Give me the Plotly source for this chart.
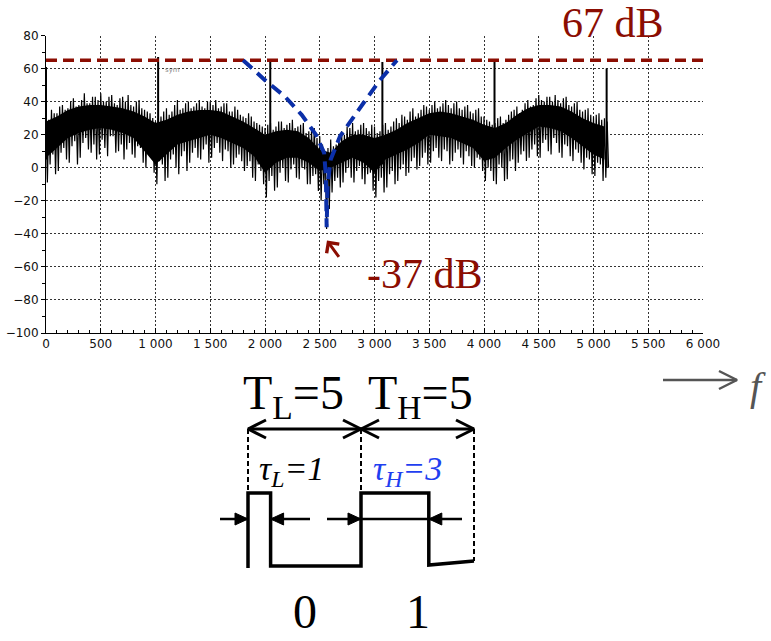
import numpy as np
import plotly.graph_objects as go

# ---------------- data ----------------
# noisy spectrum: each 50 Hz block holds two spike tops and two spike bottoms
freq_hz = np.arange(0, 5101, 50)
peak_db = [31, 35, 33, 38, 36, 42, 38, 45, 39, 43,
           45, 40, 44, 38, 43, 44, 37, 41, 35, 33,
           28, 31, 36, 34, 41, 36, 40, 37, 41, 36,
           40, 41, 37, 39, 34, 35, 31, 33, 28, 26,
           24, 27, 25, 28, 26, 29, 25, 27, 22, 24,
           19, 10, 17, 14, 22, 25, 27, 23, 27, 22,
           25, 22, 27, 25, 30, 32, 29, 36, 33, 38,
           35, 40, 37, 41, 36, 40, 35, 38, 33, 36,
           31, 28, 27, 31, 29, 34, 37, 35, 41, 38,
           44, 40, 43, 44, 39, 43, 37, 40, 34, 36,
           31, 33, 30]
trough_db = [-9, 8, -2, 12, 3, 16, 6, 18, 9, 5,
             17, 7, 19, 10, 5, 15, 6, 12, 0, 7,
             -10, 2, -6, 8, -4, 10, 3, 12, 5, 14,
             6, 15, 4, 10, 2, 8, -2, 4, -8, -2,
             -18, -5, -12, 0, -9, 2, -7, -1, -10, -4,
             -20, -37, -15, -6, -9, 0, -9, 1, -10, -3,
             -18, -6, -12, -2, -8, 2, -3, 6, 1, 9,
             3, 12, 4, 10, 4, 11, 2, 7, 0, 5,
             -8, -2, -10, 0, -7, 5, 3, 10, 6, 14,
             6, 17, 8, 15, 6, 13, 4, 9, -1, 5,
             -5, 2, -6]
peak2_db = [29, 33, 37, 35, 40, 37, 41, 39, 43, 41,
            40, 43, 39, 42, 40, 38, 40, 36, 34, 30,
            30, 34, 32, 38, 35, 39, 36, 39, 37, 40,
            38, 36, 39, 34, 37, 32, 30, 31, 27, 25,
            26, 23, 28, 24, 27, 24, 26, 21, 23, 18,
            14, 12, 13, 19, 20, 24, 22, 26, 24, 26,
            21, 26, 23, 28, 27, 31, 34, 31, 35, 37,
            38, 36, 39, 38, 39, 36, 37, 34, 35, 31,
            29, 26, 30, 27, 32, 35, 33, 39, 37, 42,
            41, 43, 40, 41, 42, 38, 39, 35, 35, 32,
            32, 29, 28]
trough2_db = [2, -4, 9, 5, 13, 2, 15, 11, 14, 8,
              12, 19, 9, 14, 11, 8, 13, 3, 9, -3,
              4, -8, 5, 0, 7, -2, 9, 6, 11, 3,
              12, 9, 11, 0, 6, 4, 1, -6, 2, -10,
              -8, -14, -3, -8, -1, -6, 0, -10, -5, -14,
              -10, -25, -8, -12, -3, -6, -2, -7, -4, -14,
              -8, -15, -4, -10, -1, -5, 4, -1, 6, 2,
              10, 6, 11, 2, 9, 6, 10, 1, 6, -2,
              0, -8, 2, -8, 4, -2, 8, 4, 11, 7,
              15, 10, 18, 9, 14, 7, 11, 3, 6, -4,
              3, -8, 0]
# dense body of the noise band, every 100 Hz
body_freq_hz = np.arange(0, 5101, 100)
body_hi_db = [28, 31, 35, 37, 38, 38, 37, 36, 34, 31,
              27, 29, 32, 34, 35, 35, 34, 31, 28, 24,
              20, 22, 23, 22, 18, 11, 9, 16, 20, 20,
              18, 20, 23, 27, 30, 33, 34, 33, 31, 29,
              26, 24, 27, 32, 36, 38, 38, 37, 34, 30,
              27, 25]
body_lo_db = [6, 12, 18, 21, 23, 24, 23, 21, 18, 10,
              2, 8, 14, 16, 18, 20, 18, 15, 12, 7,
              -3, 3, 6, 6, 3, -2, 0, 3, 6, 3,
              -3, 5, 8, 11, 15, 20, 19, 18, 15, 12,
              4, 6, 12, 17, 21, 25, 24, 22, 18, 13,
              8, 5]
# discrete tones
tone_hz = [0, 1024, 2048, 3072, 4096, 5120]
tone_top_db = [61, 67, 64, 64, 64, 60]
tone_base_db = [5, 22, 0, 2, 15, 0]

# reference level and notch
ref_level_db = 65
ref_label = "67 dB"
notch_hz = 2566
notch_db = -44
notch_label = "-37 dB"
marker_tag = "sym"

# blue V envelope
v_hz = [1800, 2000, 2183, 2335, 2465, 2540, 2556, 2563,
        2572, 2600, 2685, 2776, 2898, 3050, 3205]
v_db = [65, 53, 43, 32, 20, 9, -5, -36,
        -10, 5, 19, 28, 39, 53, 65]

# axes
x_ticks = list(range(0, 6001, 500))
x_ticktext = ["0", "500", "1 000", "1 500", "2 000", "2 500", "3 000",
              "3 500", "4 000", "4 500", "5 000", "5 500", "6 000"]
y_ticks = list(range(-100, 81, 20))
y_ticktext = ["\u2212100", "\u221280", "\u221260", "\u221240", "\u221220",
              "0", "20", "40", "60", "80"]

# timing diagram values
T_L, T_H = 5, 5
tau_L, tau_H = 1, 3
bit_labels = ["0", "1"]

# ---------------- layout geometry ----------------
W, H = 771, 641
PL, PR, PT, PB = 46, 703, 35.5, 333
DIAG_X0 = 248.0      # pixel x of t = 0 in the timing diagram
PX_PER_T = 22.6      # pixels per time unit


def tx(px):
    return (px - DIAG_X0) / PX_PER_T


DARKRED = "#8b0d02"
BLUE = "#0b2fa8"

fig = go.Figure()

# body fill
fig.add_trace(go.Scatter(
    x=list(body_freq_hz) + list(body_freq_hz[::-1]),
    y=body_hi_db + body_lo_db[::-1],
    fill="toself", fillcolor="black", mode="lines",
    line=dict(width=0, color="black"), hoverinfo="skip"))

# noise zigzag
zx, zy = [], []
for f, p, t, p2, t2 in zip(freq_hz, peak_db, trough_db, peak2_db, trough2_db):
    zx += [f, f + 12.5, f + 25, f + 37.5]
    zy += [p, t, p2, t2]
fig.add_trace(go.Scatter(x=zx, y=zy, mode="lines",
                         line=dict(color="black", width=1.2), hoverinfo="skip"))

# tones
tx_, ty_ = [], []
for f, top, base in zip(tone_hz, tone_top_db, tone_base_db):
    tx_ += [f, f, None]
    ty_ += [base, top, None]
fig.add_trace(go.Scatter(x=tx_, y=ty_, mode="lines",
                         line=dict(color="black", width=2), hoverinfo="skip"))

# reference level
fig.add_trace(go.Scatter(x=[0, 6000], y=[ref_level_db, ref_level_db], mode="lines",
                         line=dict(color=DARKRED, width=3.5, dash="11px,6px"),
                         hoverinfo="skip"))
# blue V
fig.add_trace(go.Scatter(x=v_hz, y=v_db, mode="lines",
                         line=dict(color=BLUE, width=4, dash="12px,7px"),
                         hoverinfo="skip"))

# ---------------- timing diagram (x2 = time units, y2 = pixel rows) ----------------
Y_ARROW, Y_HI, Y_LO, Y_TAU = 429, 493, 566, 519
t_end = T_L + T_H
wave_x = [0, 0, tau_L, tau_L, T_L, T_L, T_L + tau_H, T_L + tau_H, t_end]
wave_y = [568, Y_HI, Y_HI, Y_LO, Y_LO, Y_HI, Y_HI, 565, 561]
fig.add_trace(go.Scatter(x=wave_x, y=wave_y, xaxis="x2", yaxis="y2", mode="lines",
                         line=dict(color="black", width=3.5), hoverinfo="skip"))
# dashed verticals
fig.add_trace(go.Scatter(x=[0, 0, None, T_L, T_L, None, t_end, t_end],
                         y=[Y_ARROW, Y_HI, None, Y_ARROW, Y_HI, None, Y_ARROW, 561],
                         xaxis="x2", yaxis="y2", mode="lines",
                         line=dict(color="black", width=2, dash="5px,3px"),
                         hoverinfo="skip"))
# period arrows with open chevrons
hl, hh = 18 / PX_PER_T, 9
px_, py_ = [0, t_end, None], [Y_ARROW, Y_ARROW, None]
for tip, d in [(0, 1), (T_L, -1), (T_L, 1), (t_end, -1)]:
    px_ += [tip + d * hl, tip, tip + d * hl, None]
    py_ += [Y_ARROW - hh, Y_ARROW, Y_ARROW + hh, None]
fig.add_trace(go.Scatter(x=px_, y=py_, xaxis="x2", yaxis="y2", mode="lines",
                         line=dict(color="black", width=3), hoverinfo="skip"))
# tau width arrows
lx = [tx(220), 0, None, tau_L, tx(310), None, tx(327), T_L, None,
      T_L, T_L + tau_H, None, T_L + tau_H, tx(462)]
ly = [Y_TAU] * 2 + [None] + [Y_TAU] * 2 + [None] + [Y_TAU] * 2 + [None] + \
     [Y_TAU] * 2 + [None] + [Y_TAU] * 2
fig.add_trace(go.Scatter(x=lx, y=ly, xaxis="x2", yaxis="y2", mode="lines",
                         line=dict(color="black", width=2.5), hoverinfo="skip"))
al, ah = 13 / PX_PER_T, 6
for tip, d in [(0, -1), (tau_L, 1), (T_L, -1), (T_L + tau_H, 1)]:
    fig.add_trace(go.Scatter(x=[tip, tip + d * al, tip + d * al, tip],
                             y=[Y_TAU, Y_TAU - ah, Y_TAU + ah, Y_TAU],
                             xaxis="x2", yaxis="y2", mode="lines", fill="toself",
                             fillcolor="black", line=dict(color="black", width=1),
                             hoverinfo="skip"))
# f arrow (gray)
fig.add_trace(go.Scatter(x=[tx(663), tx(737), None, tx(719), tx(737), tx(719)],
                         y=[380, 380, None, 371, 380, 389],
                         xaxis="x2", yaxis="y2", mode="lines",
                         line=dict(color="#555555", width=2.5), hoverinfo="skip"))

SERIF = "Liberation Serif"
ann = []
ann.append(dict(x=613 / W, y=1 - 23 / H, xref="paper", yref="paper", text=ref_label,
                showarrow=False, font=dict(family=SERIF, size=42, color=DARKRED),
                xanchor="center", yanchor="middle"))
ann.append(dict(x=(425 - PL) * 6000 / (PR - PL), y=80 - (274 - PT) * 180 / (PB - PT),
                xref="x", yref="y", text=notch_label, showarrow=False,
                font=dict(family=SERIF, size=42, color=DARKRED),
                xanchor="center", yanchor="middle"))
ann.append(dict(x=notch_hz, y=notch_db, xref="x", yref="y", text="", showarrow=True,
                ax=13, ay=18, arrowhead=4, arrowsize=1, arrowwidth=3,
                arrowcolor=DARKRED))
ann.append(dict(x=tone_hz[1] + 40, y=59, xref="x", yref="y", text=marker_tag,
                showarrow=False, font=dict(family="DejaVu Sans", size=7, color="#888888"),
                xanchor="left", yanchor="middle"))
ann.append(dict(x=tx(241), y=396, xref="x2", yref="y2",
                text="T<sub>L</sub>=%d" % T_L, showarrow=False,
                font=dict(family=SERIF, size=48, color="black"),
                xanchor="left", yanchor="middle"))
ann.append(dict(x=tx(366), y=396, xref="x2", yref="y2",
                text="T<sub>H</sub>=%d" % T_H, showarrow=False,
                font=dict(family=SERIF, size=48, color="black"),
                xanchor="left", yanchor="middle"))
ann.append(dict(x=tx(257), y=471, xref="x2", yref="y2",
                text="<i>\u03c4<sub>L</sub>=%d</i>" % tau_L, showarrow=False,
                font=dict(family=SERIF, size=34, color="black"),
                xanchor="left", yanchor="middle"))
ann.append(dict(x=tx(371), y=471, xref="x2", yref="y2",
                text="<i>\u03c4<sub>H</sub>=%d</i>" % tau_H, showarrow=False,
                font=dict(family=SERIF, size=34, color="#1f3ff0"),
                xanchor="left", yanchor="middle"))
ann.append(dict(x=T_L / 2, y=611, xref="x2", yref="y2", text=bit_labels[0],
                showarrow=False, font=dict(family=SERIF, size=48, color="black"),
                xanchor="center", yanchor="middle"))
ann.append(dict(x=T_L + T_H / 2, y=611, xref="x2", yref="y2", text=bit_labels[1],
                showarrow=False, font=dict(family=SERIF, size=48, color="black"),
                xanchor="center", yanchor="middle"))
ann.append(dict(x=tx(758), y=386, xref="x2", yref="y2", text="<i>f</i>",
                showarrow=False, font=dict(family=SERIF, size=40, color="#555555"),
                xanchor="center", yanchor="middle"))

tickfont = dict(family="DejaVu Sans", size=12, color="#111111")
fig.update_layout(
    template="none",
    width=W, height=H, margin=dict(l=0, r=0, t=0, b=0, pad=0), autosize=False,
    paper_bgcolor="white", plot_bgcolor="rgba(0,0,0,0)", showlegend=False,
    annotations=ann,
    xaxis=dict(domain=[PL / W, PR / W], range=[0, 6000], tickvals=x_ticks,
               ticktext=x_ticktext, showgrid=True, gridcolor="#333333",
               griddash="2px,2px", gridwidth=1, zeroline=False, showline=True,
               linecolor="black", linewidth=1, ticks="inside", ticklen=5,
               tickcolor="black", automargin=False,
               minor=dict(ticks="inside", ticklen=3, dtick=100, tick0=0,
                          tickcolor="black", showgrid=False),
               tickfont=tickfont, anchor="y", fixedrange=True),
    yaxis=dict(domain=[(H - PB) / H, (H - PT) / H], range=[-100, 80], tickvals=y_ticks,
               ticktext=y_ticktext, showgrid=True, gridcolor="#333333",
               griddash="2px,2px", gridwidth=1, zeroline=False, showline=True,
               linecolor="black", linewidth=1, ticks="outside", ticklen=4,
               tickcolor="black", automargin=False,
               minor=dict(ticks="outside", ticklen=3, dtick=10, tick0=0,
                          tickcolor="black", showgrid=False),
               tickfont=tickfont, anchor="x", fixedrange=True),
    xaxis2=dict(domain=[0, 1], range=[tx(0), tx(W)], visible=False, anchor="y2",
                fixedrange=True, automargin=False),
    yaxis2=dict(domain=[0, 1], range=[H, 0], visible=False, anchor="x2",
                fixedrange=True, automargin=False),
)

fig.write_html("out.html", config={"displayModeBar": False},
               post_script="document.body.style.margin='0px';"
                           "document.body.style.overflow='hidden';")
